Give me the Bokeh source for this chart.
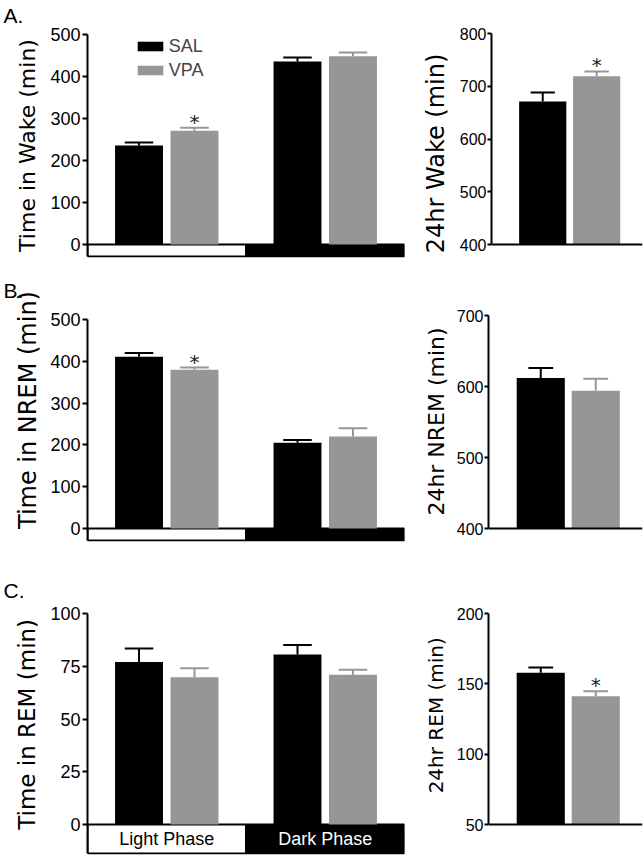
from bokeh.plotting import figure
from bokeh.models import Range1d, FixedTicker, Legend, LegendItem, Span
from bokeh.layouts import column, row
from bokeh.embed import file_html
from bokeh.resources import INLINE
from bokeh.core.properties import value

# ---------------- data ----------------
phases = ["Light Phase", "Dark Phase"]
groups = ["SAL", "VPA"]

wake_sal = [236, 436]
wake_sal_err = [7, 9]
wake_vpa = [271, 448]
wake_vpa_err = [7, 9]
wake_vpa_sig = [True, False]
wake24 = [671, 719]
wake24_err = [17, 9]
wake24_sig = [False, True]

nrem_sal = [411, 205]
nrem_sal_err = [9, 7]
nrem_vpa = [380, 220]
nrem_vpa_err = [5, 20]
nrem_vpa_sig = [True, False]
nrem24 = [612, 594]
nrem24_err = [14, 17]
nrem24_sig = [False, False]

rem_sal = [77.0, 80.6]
rem_sal_err = [6.4, 4.5]
rem_vpa = [69.8, 71.0]
rem_vpa_err = [4.2, 2.4]
rem_vpa_sig = [False, False]
rem24 = [157.8, 141.2]
rem24_err = [3.8, 3.6]
rem24_sig = [False, True]

wake_ticks = [0, 100, 200, 300, 400, 500]
wake24_ticks = [400, 500, 600, 700, 800]
nrem_ticks = [0, 100, 200, 300, 400, 500]
nrem24_ticks = [400, 500, 600, 700]
rem_ticks = [0, 25, 50, 75, 100]
rem24_ticks = [50, 100, 150, 200]

# ---------------- style / layout ----------------
BLACK = "#000000"
GRAY = "#969696"
FONT = "Liberation Sans"
LFONT = "DejaVu Sans"
NBSP = "\u00a0"


def padded(text, fs, frame_top, frame_bot, want_center):
    # shift the centred (rotated) label along the axis with non-breaking spaces
    shift = want_center - (frame_top + frame_bot) / 2.0
    n = int(round(abs(2 * shift) / (0.318 * fs)))
    return text + NBSP * n if shift > 0 else NBSP * n + text


def mapping(lo_val, lo_px, hi_val, hi_px, frame_top, frame_bot):
    s = (hi_val - lo_val) / float(lo_px - hi_px)
    start = lo_val - (frame_bot - lo_px) * s
    end = hi_val + (hi_px - frame_top) * s
    return s, start, end


def style_yaxis(p, ticks, size, tick_out, standoff, bounds, label, lsize, lstand):
    ax = p.yaxis[0]
    ax.ticker = FixedTicker(ticks=ticks)
    ax.bounds = bounds
    ax.axis_line_width = 2
    ax.axis_line_color = BLACK
    ax.major_tick_line_width = 2
    ax.major_tick_line_color = BLACK
    ax.major_tick_out = tick_out
    ax.major_tick_in = 0
    ax.minor_tick_line_color = None
    ax.major_label_text_font = FONT
    ax.major_label_text_font_size = f"{size}px"
    ax.major_label_text_color = BLACK
    ax.major_label_standoff = standoff
    ax.axis_label = label
    ax.axis_label_text_font = LFONT
    ax.axis_label_text_font_size = f"{lsize}px"
    ax.axis_label_text_font_style = "normal"
    ax.axis_label_text_color = BLACK
    ax.axis_label_standoff = lstand


def add_err(p, xs, vals, errs, color, capw):
    tops = [v + e for v, e in zip(vals, errs)]
    p.segment(x0=xs, y0=vals, x1=xs, y1=tops, line_color=color, line_width=2)
    p.segment(x0=[x - capw / 2 for x in xs], y0=tops,
              x1=[x + capw / 2 for x in xs], y1=tops,
              line_color=color, line_width=2)
    return tops


def add_stars(p, xs, tops, sig):
    sx = [x for x, s in zip(xs, sig) if s]
    sy = [t for t, s in zip(tops, sig) if s]
    if sx:
        p.text(x=sx, y=sy, text=["*"] * len(sx), text_font=value(LFONT),
               text_font_size="20px", text_align="center",
               text_baseline="alphabetic", y_offset=-6, text_color="#222222")


LEFT_W, LEFT_BL, LEFT_FW = 418, 87, 317
RIGHT_W, RIGHT_BL, RIGHT_FW = 226, 70, 154


def left_panel(sal, sal_err, vpa, vpa_err, vpa_sig, ticks, ylabel, lsize, lstand,
               label_center, letter, fig_top, fig_h, frame_top, frame_bot,
               zero_px, top_px, phase_bot_px, phase_text=False, legend=False):
    s, start, end = mapping(ticks[0], zero_px, ticks[-1], top_px, frame_top, frame_bot)
    pb = -(phase_bot_px - zero_px) * s
    p = figure(width=LEFT_W, height=fig_h, title=letter,
               x_range=Range1d(0, 4), y_range=Range1d(start, end),
               min_border_left=LEFT_BL, min_border_right=LEFT_W - LEFT_BL - LEFT_FW,
               min_border_top=frame_top - fig_top,
               min_border_bottom=fig_top + fig_h - frame_bot,
               x_axis_location=None, toolbar_location=None, output_backend="svg")
    p.outline_line_color = None
    p.grid.visible = False
    p.title.align = "left"
    p.title.offset = -84
    p.title.standoff = 0
    p.title.vertical_align = "bottom"
    p.title.text_font = FONT
    p.title.text_font_size = "21px"
    p.title.text_font_style = "normal"
    p.title.text_color = BLACK

    centers = [1, 3]
    xs_sal = [c - 0.35 for c in centers]
    xs_vpa = [c + 0.35 for c in centers]

    p.quad(left=[0, 2], right=[2, 4], bottom=[pb, pb], top=[0, 0],
           fill_color=["white", "black"], line_color="black", line_width=2)
    if phase_text:
        p.text(x=centers, y=[pb / 2, pb / 2], text=phases,
               text_color=["black", "white"], text_font=value(FONT),
               text_font_size="18px", text_align="center", text_baseline="middle")

    r_sal = p.vbar(x=xs_sal, top=sal, bottom=0, width=0.605,
                   fill_color=BLACK, line_color=None)
    r_vpa = p.vbar(x=xs_vpa, top=vpa, bottom=0, width=0.605,
                   fill_color=GRAY, line_color=None)
    add_err(p, xs_sal, sal, sal_err, BLACK, 0.36)
    tops = add_err(p, xs_vpa, vpa, vpa_err, GRAY, 0.36)
    add_stars(p, xs_vpa, tops, vpa_sig)

    style_yaxis(p, ticks, 18, 5, 2, (pb, ticks[-1]),
                padded(ylabel, lsize, frame_top, frame_bot, label_center),
                lsize, lstand)
    if legend:
        lg = Legend(items=[LegendItem(label=groups[0], renderers=[r_sal]),
                           LegendItem(label=groups[1], renderers=[r_vpa])],
                    location=(137 - 3.2 - LEFT_BL, frame_bot - 37.8 - 43),
                    glyph_width=32, glyph_height=12,
                    label_text_font=FONT, label_text_font_size="18px",
                    padding=0, margin=0, spacing=3, label_standoff=3,
                    label_height=20, border_line_color=None,
                    background_fill_alpha=0)
        p.add_layout(lg)
    return p


def right_panel(vals, errs, sig, ticks, ylabel, lsize, lstand, label_center,
                fig_top, fig_h, frame_top, frame_bot, base_px, top_px):
    s, start, end = mapping(ticks[0], base_px, ticks[-1], top_px, frame_top, frame_bot)
    p = figure(width=RIGHT_W, height=fig_h, title=None,
               x_range=Range1d(0, 2.8), y_range=Range1d(start, end),
               min_border_left=RIGHT_BL, min_border_right=RIGHT_W - RIGHT_BL - RIGHT_FW,
               min_border_top=frame_top - fig_top,
               min_border_bottom=fig_top + fig_h - frame_bot,
               x_axis_location=None, toolbar_location=None, output_backend="svg")
    p.outline_line_color = None
    p.grid.visible = False
    xs = [0.95, 1.95]
    base = ticks[0]
    p.vbar(x=xs, top=vals, bottom=base, width=0.875,
           fill_color=[BLACK, GRAY], line_color=None)
    t0 = add_err(p, xs[:1], vals[:1], errs[:1], BLACK, 0.45)
    t1 = add_err(p, xs[1:], vals[1:], errs[1:], GRAY, 0.45)
    add_stars(p, xs, t0 + t1, sig)
    p.add_layout(Span(location=base, dimension="width", line_color=BLACK,
                      line_width=2))
    style_yaxis(p, ticks, 16, 4, 1, (ticks[0], ticks[-1]),
                padded(ylabel, lsize, frame_top, frame_bot, label_center),
                lsize, lstand)
    return p


# row A: figures y 0..275, frame 26..257
fA = left_panel(wake_sal, wake_sal_err, wake_vpa, wake_vpa_err, wake_vpa_sig,
                wake_ticks, "Time in Wake (min)", 22, 7, 145, "A.",
                0, 275, 26, 257, 244, 34, 256, legend=True)
fAr = right_panel(wake24, wake24_err, wake24_sig, wake24_ticks,
                  "24hr Wake  (min)", 24, 7, 147.5, 0, 275, 26, 257, 244, 33)

# row B: figures y 275..575, frame 301..541
fB = left_panel(nrem_sal, nrem_sal_err, nrem_vpa, nrem_vpa_err, nrem_vpa_sig,
                nrem_ticks, "Time in NREM (min)", 24, 5, 408, "B.",
                275, 300, 301, 541, 528, 319, 540)
fBr = right_panel(nrem24, nrem24_err, nrem24_sig, nrem24_ticks,
                  "24hr NREM (min)", 22, 5, 420, 275, 300, 301, 541, 528, 315)

# row C: figures y 575..855, frame 601..854
fC = left_panel(rem_sal, rem_sal_err, rem_vpa, rem_vpa_err, rem_vpa_sig,
                rem_ticks, "Time in REM (min)", 23, 7, 725, "C.",
                575, 280, 601, 854, 824, 613, 853, phase_text=True)
fCr = right_panel(rem24, rem24_err, rem24_sig, rem24_ticks,
                  "24hr REM (min)", 20, 6, 714, 575, 280, 601, 854, 824, 613)

layout = column(row(fA, fAr), row(fB, fBr), row(fC, fCr))

with open("out.html", "w") as f:
    f.write(file_html(layout, INLINE))
